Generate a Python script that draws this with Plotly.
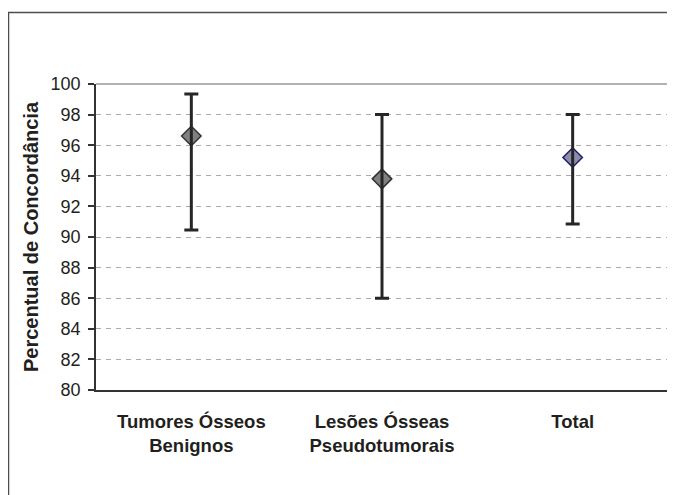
import plotly.graph_objects as go

categories = ["Tumores Ósseos<br>Benignos", "Lesões Ósseas<br>Pseudotumorais", "Total"]
means = [96.6, 93.8, 95.2]
upper = [99.35, 98.0, 98.0]
lower = [90.45, 86.0, 90.85]
marker_fill = ["#808080", "#808080", "#8c8ca6"]
marker_line = ["#333333", "#333333", "#1f1f6b"]
y_ticks = list(range(80, 101, 2))

err_plus = [u - m for u, m in zip(upper, means)]
err_minus = [m - l for m, l in zip(means, lower)]

fig = go.Figure()
fig.add_trace(go.Scatter(
    x=categories, y=means, mode="markers",
    marker=dict(symbol="diamond", size=15, color=marker_fill,
                line=dict(color=marker_line, width=1.5)),
    showlegend=False, hoverinfo="skip"))
fig.add_trace(go.Scatter(
    x=categories, y=means, mode="markers",
    marker=dict(size=1, opacity=0),
    error_y=dict(type="data", symmetric=False, array=err_plus, arrayminus=err_minus,
                 color="#262626", thickness=3, width=7),
    showlegend=False))

OFF = 8  # page body margin
W, H = 675 - OFF, 495 - OFF
L, R, T, B = 96 - OFF, 7, 84 - OFF, 105
pw, ph = W - L - R, H - T - B

def px(x):
    return (x - OFF - L) / pw

def py(y):
    return (H - B - (y - OFF)) / ph

fig.update_layout(
    width=W, height=H,
    margin=dict(l=L, r=R, t=T, b=B),
    paper_bgcolor="white", plot_bgcolor="white",
    font=dict(family="Liberation Sans, Arial, sans-serif", color="#231f20"),
    xaxis=dict(type="category", range=[-0.5, 2.5], showgrid=False, zeroline=False,
               showline=True, linecolor="#333333", linewidth=1.5, ticks="",
               tickfont=dict(size=18.5, family="Liberation Sans, Arial, sans-serif", weight="bold"),
               ticklabelstandoff=14),
    yaxis=dict(range=[80, 100], tickvals=y_ticks, showgrid=True,
               gridcolor="#aaaaaa", griddash="5px,5px", gridwidth=1, zeroline=False,
               showline=True, linecolor="#333333", linewidth=1.5,
               ticks="outside", ticklen=6, tickcolor="#333333", tickwidth=1.5,
               tickfont=dict(size=18), ticklabelstandoff=4,
               title=dict(text="Percentual de Concordância",
                          font=dict(size=20, weight="bold"), standoff=7)),
    shapes=[
        # outer chart frame
        dict(type="rect", xref="paper", yref="paper",
             x0=px(8.5), x1=px(700), y0=py(530), y1=py(12.5),
             line=dict(color="#4d4d4d", width=1.5), fillcolor="rgba(0,0,0,0)", layer="below"),
        # top/right plot border (gray)
        dict(type="line", xref="paper", yref="paper", x0=0, x1=1, y0=1, y1=1,
             line=dict(color="#999999", width=1.5)),
        dict(type="line", xref="paper", yref="paper", x0=1, x1=1, y0=0, y1=1,
             line=dict(color="#999999", width=1.5)),
    ],
)

fig.write_html("out.html")
